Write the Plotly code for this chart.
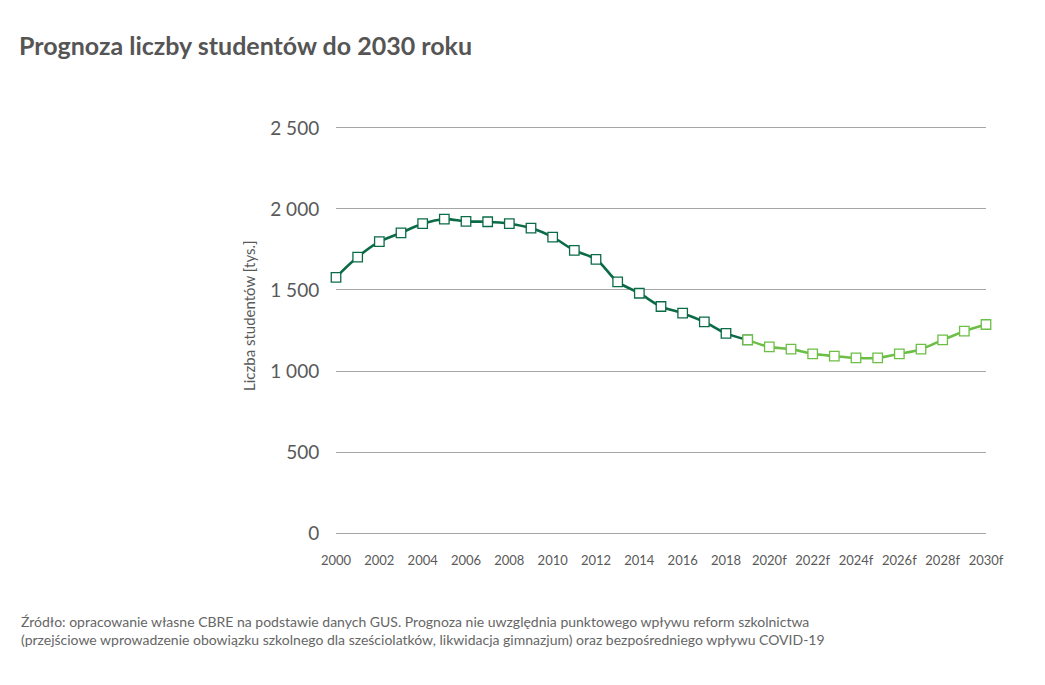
import plotly.graph_objects as go

years = [str(y) for y in range(2000, 2020)] + [f"{y}f" for y in range(2020, 2031)]
hist_years = years[:20]
hist_values = [1578, 1703, 1798, 1853, 1909, 1937, 1923, 1921, 1909, 1882,
               1826, 1744, 1689, 1550, 1480, 1398, 1357, 1303, 1232, 1192]
fc_years = years[19:]
fc_values = [1192, 1149, 1135, 1106, 1092, 1081, 1081, 1106, 1135, 1192, 1246, 1287]

y_ticks = [0, 500, 1000, 1500, 2000, 2500]
y_ticktext = ["0", "500", "1 000", "1 500", "2 000", "2 500"]
x_ticks = years[::2]

dark = "#0b6b47"
light = "#6cbf45"
font_family = "Lato, 'Open Sans', sans-serif"

# page body has an 8px default margin; compensate
OFF = 8
W, H = 1045, 685
PAD = 12  # value padding so edge gridlines are drawn
L, R, T, B = 336 - OFF, W - 986 + OFF, 128 - OFF - 2, H - 533 + OFF - 2
PW, PH = W - L - R, H - T - B

fig = go.Figure()
fig.add_trace(go.Scatter(
    x=hist_years, y=hist_values, mode="lines+markers", cliponaxis=False,
    line=dict(color=dark, width=2.6, shape="spline", smoothing=1.0),
    marker=dict(symbol="square", size=9.5, color="white", line=dict(color=dark, width=1.3)),
    showlegend=False, hoverinfo="x+y"))
fig.add_trace(go.Scatter(
    x=fc_years, y=fc_values, mode="lines+markers", cliponaxis=False,
    line=dict(color=light, width=2.6, shape="spline", smoothing=1.0),
    marker=dict(symbol="square", size=9.5, color="white", line=dict(color=light, width=1.3)),
    showlegend=False, hoverinfo="x+y"))

fig.update_layout(
    width=W, height=H,
    paper_bgcolor="white", plot_bgcolor="white",
    margin=dict(l=L, r=R, t=T, b=B),
    font=dict(family=font_family, color="#595959"),
    title=dict(text="<b>Prognoza liczby studentów do 2030 roku</b>",
               x=(19 - OFF) / W, xanchor="left", y=1 - (46 - OFF) / H, yanchor="middle",
               font=dict(size=25, color="#555555", family=font_family)),
    xaxis=dict(type="category", categoryorder="array", categoryarray=years,
               range=[0, 30], tickvals=x_ticks, ticktext=x_ticks,
               showgrid=False, zeroline=False, showline=False,
               ticks="outside", ticklen=13, tickcolor="rgba(0,0,0,0)",
               tickfont=dict(size=13, color="#595959")),
    yaxis=dict(range=[-PAD, 2500 + PAD], tickvals=y_ticks, ticktext=y_ticktext,
               showgrid=True, gridcolor="#a6a6a6", gridwidth=1,
               zeroline=False, showline=False,
               ticks="outside", ticklen=12, tickcolor="rgba(0,0,0,0)",
               tickfont=dict(size=19, color="#595959")),
)

fig.add_annotation(
    text="Liczba studentów [tys.]", textangle=-90,
    xref="paper", yref="paper",
    x=-(L - (249 - OFF)) / PW, y=((H - B) - (316 - OFF)) / PH,
    xanchor="center", yanchor="middle", showarrow=False,
    font=dict(size=15, color="#595959", family=font_family))

fig.add_annotation(
    text="Źródło: opracowanie własne CBRE na podstawie danych GUS. Prognoza nie uwzględnia punktowego wpływu reform szkolnictwa<br>"
         "(przejściowe wprowadzenie obowiązku szkolnego dla sześciolatków, likwidacja gimnazjum) oraz bezpośredniego wpływu COVID-19",
    xref="paper", yref="paper", x=-(L - (19 - OFF)) / PW, y=-((611 - OFF) - (H - B)) / PH,
    xanchor="left", yanchor="top", align="left", showarrow=False,
    font=dict(size=14, color="#666666", family=font_family))

fig.write_html("out.html")
